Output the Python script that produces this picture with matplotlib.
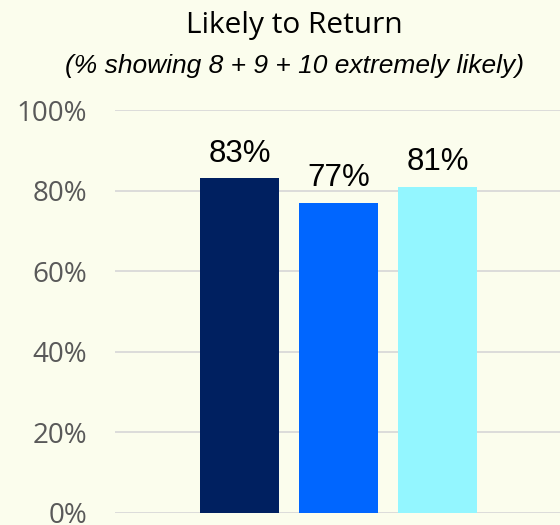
import matplotlib.pyplot as plt
from matplotlib.ticker import FuncFormatter

# likely-to-return scores, one bar per group
groups = ["A", "B", "C"]
scores = [83, 77, 81]
bar_colors = ["#002060", "#0066FF", "#93F6FF"]
y_ticks = [0, 20, 40, 60, 80, 100]

bg = "#FBFDED"

fig = plt.figure(figsize=(5.6, 5.25), dpi=100, facecolor=bg)
ax = fig.add_axes([0.2054, 0.0234, 0.7946, 0.767], facecolor=bg)

x = list(range(len(groups)))
bars = ax.bar(x, scores, width=0.8, color=bar_colors, zorder=3)

for xi, v in zip(x, scores):
    ax.annotate(f"{v}%", (xi, v), xytext=(0, 12), textcoords="offset points",
                ha="center", va="baseline", fontsize=22.5,
                family="Liberation Sans", color="black")

ax.set_ylim(0, 100)
ax.set_xlim(-1.258, 3.237)
ax.set_yticks(y_ticks)
ax.yaxis.set_major_formatter(FuncFormatter(lambda v, p: f"{v:.0f}%"))
ax.set_xticks([])
ax.tick_params(axis="y", length=0, pad=20, labelsize=20, labelcolor="#595959")
for lab in ax.get_yticklabels():
    lab.set_family("Open Sans")
ax.grid(axis="y", color="#D9D9D9", linewidth=1.3, zorder=0)
for s in ax.spines.values():
    s.set_visible(False)

fig.text(0.526, 1 - 33 / 525, "Likely to Return", ha="center", va="baseline",
         fontsize=21.5, family="Open Sans", color="black")
fig.text(0.526, 1 - 73 / 525, "(% showing 8 + 9 + 10 extremely likely)",
         ha="center", va="baseline", fontsize=19, style="italic",
         family="Liberation Sans", color="black")

fig.savefig("out.png", dpi=100, facecolor=bg)
